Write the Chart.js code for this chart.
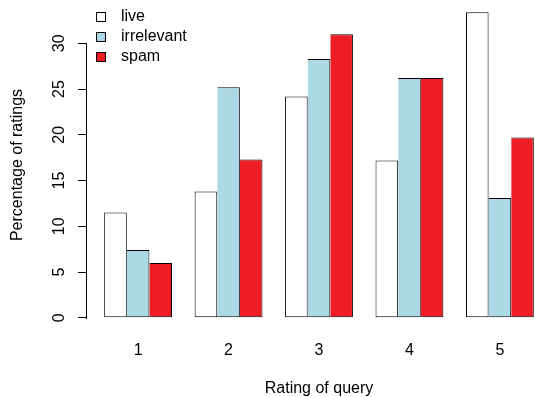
<!DOCTYPE html>
<html>
<head>
<meta charset="utf-8">
<script src="https://cdn.jsdelivr.net/npm/chart.js@4.4.1/dist/chart.umd.min.js"></script>
<style>
  html, body { margin: 0; padding: 0; background: #fff; overflow: hidden; }
</style>
</head>
<body>
<!-- R's plot region runs a bit past the right edge of the 535px picture -->
<canvas id="ratingsChart" width="551" height="397"></canvas>
<script>
// rating of query (x categories)
const ratings = [1, 2, 3, 4, 5];

// percentage of ratings per series
const live = [11.5, 13.8, 24.2, 17.2, 33.4];
const irrelevant = [7.4, 25.2, 28.3, 26.2, 13.1];
const spam = [6.0, 17.3, 31.0, 26.2, 19.7];

const seriesNames = ["live", "irrelevant", "spam"];
const seriesColors = ["#FFFFFF", "#ADD8E6", "#EE1D24"];

const yTicks = [0, 5, 10, 15, 20, 25, 30];

// R style axis ranges (4% extension)
const yTop = Math.max(...live, ...irrelevant, ...spam);
const yMin = -0.04 * yTop;
const yMax = 1.04 * yTop;
const xMin = 0.435;
const xMax = 5.565;

Chart.defaults.font.family = '"Liberation Sans", Arial, sans-serif';
Chart.defaults.font.size = 16;
Chart.defaults.color = "#000";

// small legend swatch, box sits a bit right of the legend edge like in R
function swatch(fill) {
  const c = document.createElement("canvas");
  c.width = 22;
  c.height = 10;
  const g = c.getContext("2d");
  g.fillStyle = fill;
  g.fillRect(5, 0, 10, 10);
  g.strokeStyle = "#000";
  g.lineWidth = 1;
  g.strokeRect(5.5, 0.5, 9, 9);
  return c;
}
const swatches = seriesColors.map(swatch);

// y axis line only spans the tick range
const yAxisLine = {
  id: "yAxisLine",
  afterDraw(chart) {
    const s = chart.scales.y;
    const ctx = chart.ctx;
    const x = Math.round(s.right) - 0.5;
    ctx.save();
    ctx.strokeStyle = "#000";
    ctx.lineWidth = 1;
    ctx.beginPath();
    ctx.moveTo(x, Math.round(s.getPixelForValue(yTicks[0])) + 1);
    ctx.lineTo(x, Math.round(s.getPixelForValue(yTicks[yTicks.length - 1])));
    ctx.stroke();
    ctx.restore();
  }
};

const ctx = document.getElementById("ratingsChart").getContext("2d");

new Chart(ctx, {
  type: "bar",
  data: {
    labels: ratings,
    datasets: [
      {
        label: seriesNames[0],
        data: live,
        backgroundColor: seriesColors[0],
        borderColor: "#000",
        borderWidth: 1,
        borderSkipped: false
      },
      {
        label: seriesNames[1],
        data: irrelevant,
        backgroundColor: seriesColors[1],
        borderColor: "#000",
        borderWidth: 1,
        borderSkipped: "left"
      },
      {
        label: seriesNames[2],
        data: spam,
        backgroundColor: seriesColors[2],
        borderColor: "#000",
        borderWidth: 1,
        borderSkipped: "left"
      }
    ]
  },
  options: {
    responsive: false,
    animation: false,
    categoryPercentage: 0.75,
    barPercentage: 1,
    layout: {
      autoPadding: false,
      padding: 0
    },
    plugins: {
      tooltip: { enabled: false },
      legend: {
        position: "chartArea",
        align: "start",
        title: { display: true, text: "", padding: 0, font: { size: 5, lineHeight: 1 } },
        labels: {
          usePointStyle: true,
          pointStyleWidth: 22,
          padding: 4,
          color: "#000",
          font: { size: 16 },
          generateLabels(chart) {
            const items = Chart.defaults.plugins.legend.labels.generateLabels(chart);
            items.forEach((item, i) => {
              item.pointStyle = swatches[i];
            });
            return items;
          }
        }
      }
    },
    scales: {
      x: {
        type: "linear",
        min: xMin,
        max: xMax,
        offset: false,
        grid: { display: false, drawTicks: false },
        border: { display: false },
        afterBuildTicks: (s) => {
          s.ticks = ratings.map((v) => ({ value: v }));
        },
        afterFit: (s) => {
          s.height = 67;
          s.paddingLeft = 0;
          s.paddingRight = 0;
        },
        ticks: { padding: 11, color: "#000", font: { size: 16 } },
        title: {
          display: true,
          text: "Rating of query",
          color: "#000",
          padding: 0,
          font: { size: 16, lineHeight: 1 }
        }
      },
      y: {
        min: yMin,
        max: yMax,
        grid: {
          drawOnChartArea: false,
          drawTicks: true,
          tickLength: 9,
          color: "#000"
        },
        border: { display: false },
        afterBuildTicks: (s) => {
          s.ticks = yTicks.map((v) => ({ value: v }));
        },
        afterFit: (s) => {
          s.width = 87;
          s.paddingTop = 0;
          s.paddingBottom = 0;
        },
        ticks: {
          minRotation: 90,
          maxRotation: 90,
          crossAlign: "center",
          autoSkip: false,
          padding: 10,
          color: "#000",
          font: { size: 16 }
        },
        title: {
          display: true,
          text: "Percentage of ratings",
          color: "#000",
          padding: { top: 8, bottom: 0 },
          font: { size: 16 }
        }
      }
    }
  },
  plugins: [yAxisLine]
});
</script>
</body>
</html>
